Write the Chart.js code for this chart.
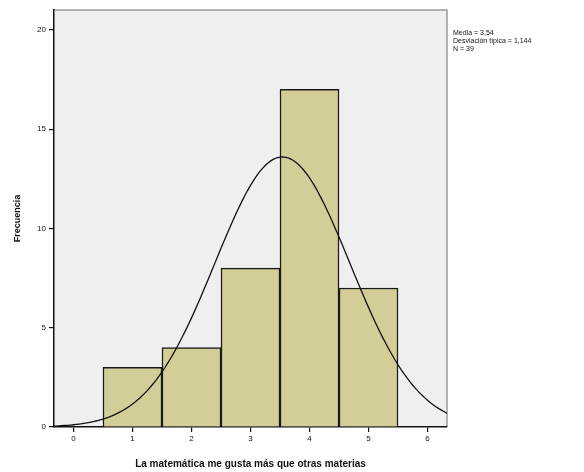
<!DOCTYPE html>
<html>
<head>
<meta charset="utf-8">
<script src="https://cdn.jsdelivr.net/npm/chart.js@4.4.1/dist/chart.umd.min.js"></script>
<style>
  html, body { margin: 0; padding: 0; background: #ffffff; }
  #wrap { width: 584px; height: 472px; position: relative; }
</style>
</head>
<body>
<div id="wrap"><canvas id="c" width="584" height="472"></canvas></div>
<script>
// Histogram: response scale 1..5 and number of answers per value
const scoreValues = [1, 2, 3, 4, 5];
const frequencies = [3, 4, 8, 17, 7];

// Summary statistics shown beside the plot
const statMean = 3.54;
const statSd = 1.144;
const statN = 39;
const statLabels = ['Media = 3,54', 'Desviación típica = 1,144', 'N = 39'];

// Axis tick values
const xTicks = [0, 1, 2, 3, 4, 5, 6];
const yTicks = [0, 5, 10, 15, 20];

const xTitle = 'La matemática me gusta más que otras materias';
const yTitle = 'Frecuencia';

// Fitted normal curve (bin width 1) from the summary statistics
const curvePoints = [];
for (let x = -0.4; x <= 6.45; x += 0.05) {
  const z = (x - statMean) / statSd;
  curvePoints.push({ x: x, y: statN / (statSd * Math.sqrt(2 * Math.PI)) * Math.exp(-0.5 * z * z) });
}

const barData = scoreValues.map((v, i) => ({ x: v, y: frequencies[i] }));

const plotFrame = {
  id: 'plotFrame',
  beforeDraw(chart) {
    const { ctx, chartArea: a } = chart;
    ctx.save();
    ctx.fillStyle = '#efefef';
    ctx.fillRect(a.left, a.top, a.right - a.left, a.bottom - a.top);
    ctx.strokeStyle = '#9a9a9a';
    ctx.lineWidth = 1.5;
    ctx.beginPath();
    ctx.moveTo(a.left, a.top);
    ctx.lineTo(a.right, a.top);
    ctx.lineTo(a.right, a.bottom);
    ctx.stroke();
    ctx.restore();
  },
  afterDraw(chart) {
    const { ctx, chartArea: a } = chart;
    ctx.save();
    ctx.fillStyle = '#111';
    ctx.font = '7px "Liberation Sans", Arial, sans-serif';
    ctx.textBaseline = 'middle';
    statLabels.forEach((t, i) => ctx.fillText(t, a.right + 6, 33 + i * 8));
    ctx.restore();
  }
};

new Chart(document.getElementById('c'), {
  data: {
    datasets: [
      {
        type: 'line',
        data: curvePoints,
        borderColor: '#111',
        borderWidth: 1.3,
        pointRadius: 0,
        tension: 0,
        order: 0
      },
      {
        type: 'bar',
        data: barData,
        backgroundColor: 'rgb(211,206,151)',
        borderColor: '#1a1a1a',
        borderWidth: 1.5,
        barPercentage: 1,
        categoryPercentage: 1,
        order: 1
      }
    ]
  },
  plugins: [plotFrame],
  options: {
    responsive: false,
    animation: false,
    layout: { padding: { left: 0, top: 10, right: 137, bottom: 0 } },
    plugins: { legend: { display: false }, tooltip: { enabled: false } },
    scales: {
      x: {
        type: 'linear',
        min: -0.33,
        max: 6.33,
        offset: false,
        afterBuildTicks(scale) { scale.ticks = xTicks.map(v => ({ value: v })); },
        afterFit(scale) { scale.height = 45; },
        ticks: {
          color: '#111',
          font: { family: '"Liberation Sans", Arial, sans-serif', size: 8 },
          padding: 2,
          maxRotation: 0
        },
        grid: { offset: false, drawOnChartArea: false, drawTicks: true, tickLength: 5, color: '#111', lineWidth: 1.2 },
        border: { display: true, color: '#111', width: 1.5 },
        title: {
          display: true,
          text: xTitle,
          color: '#111',
          font: { family: '"Liberation Sans", Arial, sans-serif', size: 10, weight: 'bold' },
          padding: { top: 4, bottom: 2 }
        }
      },
      y: {
        type: 'linear',
        min: 0,
        max: 21,
        afterBuildTicks(scale) { scale.ticks = yTicks.map(v => ({ value: v })); },
        afterFit(scale) { scale.width = 54; },
        ticks: {
          color: '#111',
          font: { family: '"Liberation Sans", Arial, sans-serif', size: 8 },
          padding: 3
        },
        grid: { drawOnChartArea: false, drawTicks: true, tickLength: 5, color: '#111', lineWidth: 1.2 },
        border: { display: true, color: '#111', width: 1.5 },
        title: {
          display: true,
          text: yTitle,
          color: '#111',
          font: { family: '"Liberation Sans", Arial, sans-serif', size: 9, weight: 'bold' },
          padding: { top: 12, bottom: 0 }
        }
      }
    }
  }
});
</script>
</body>
</html>
